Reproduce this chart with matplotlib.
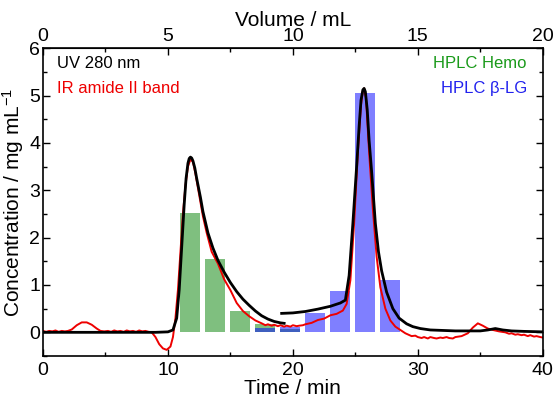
import matplotlib
matplotlib.use("Agg")
import matplotlib.pyplot as plt
from matplotlib.ticker import MultipleLocator

plt.rcParams['font.family'] = ['Liberation Sans', 'DejaVu Sans']
plt.rcParams['mathtext.fontset'] = 'custom'
plt.rcParams['mathtext.rm'] = 'Liberation Sans'
plt.rcParams['mathtext.it'] = 'Liberation Sans:italic'

# --- datos ---
# UV 280 nm (dos tramos)
uv1_t = [0, 3, 6, 9, 10.0, 10.4, 10.7, 10.9, 11.1, 11.3,
         11.45, 11.6, 11.7, 11.8, 11.9,
         12.0, 12.15, 12.3, 12.6, 12.8, 13.2, 13.6, 14.0, 14.5, 15.0, 15.5, 16.0, 16.5,
         17.0, 17.5, 18.0, 18.5, 19.0, 19.3]
uv1_c = [0.0, 0.0, 0.0, 0.0, 0.01, 0.05, 0.3, 0.9, 1.8, 2.7,
         3.25, 3.57, 3.67, 3.7, 3.68,
         3.62, 3.47, 3.25, 2.85, 2.55, 2.1, 1.78, 1.52, 1.27, 1.05, 0.86, 0.7, 0.57,
         0.45, 0.35, 0.28, 0.23, 0.2, 0.19]
uv2_t = [19.1, 20, 21, 22, 23, 23.8, 24.2, 24.5, 24.8, 25.1,
         25.3, 25.45, 25.6, 25.7, 25.8, 25.95, 26.1, 26.3, 26.6, 26.85,
         27.1, 27.5, 28.0, 28.5, 29.1, 29.6, 30.2, 31, 32, 33,
         34, 35, 35.6, 36.2, 36.8, 37.5, 38.5, 40]
uv2_c = [0.40, 0.41, 0.44, 0.49, 0.55, 0.62, 0.68, 1.2, 2.3, 3.5,
         4.35, 4.9, 5.12, 5.15, 5.08, 4.7, 4.05, 3.4, 2.3, 1.7,
         1.3, 0.85, 0.5, 0.3, 0.18, 0.12, 0.08, 0.05, 0.04, 0.03,
         0.03, 0.03, 0.05, 0.08, 0.05, 0.03, 0.02, 0.01]

# IR amide II band
ir_t = [0, 0.25, 0.5, 0.75, 1.0, 1.25, 1.5, 1.75, 2.0, 2.3,
        2.7, 3.1, 3.5, 3.9, 4.3, 4.6, 4.9, 5.2, 5.45, 5.7,
        5.95, 6.2, 6.45, 6.7, 6.95, 7.2, 7.45, 7.7, 7.95, 8.2,
        8.45, 8.7, 9.0, 9.3, 9.6, 9.9, 10.2, 10.4, 10.6, 10.8,
        11.0, 11.2, 11.4, 11.6, 11.8, 12.0, 12.2, 12.5, 12.8, 13.1,
        13.5, 14.0, 14.5, 15.0, 15.5, 16.0, 16.5, 17.0, 17.5, 17.8,
        18.0, 18.3, 18.5, 18.8, 19.0, 19.3, 19.5, 19.8, 20.0, 20.3,
        20.5, 20.8, 21.0, 21.5, 22.0, 22.5, 23.0, 23.5, 24.0, 24.3,
        24.6, 24.9, 25.2, 25.45, 25.6, 25.7, 25.85, 26.1, 26.4, 26.7,
        27.0, 27.4, 27.8, 28.2, 28.6, 29.0, 29.5, 29.8, 30.0, 30.3,
        30.5, 30.8, 31.0, 31.3, 31.5, 31.8, 32.0, 32.3, 32.5, 32.8,
        33.0, 33.5, 34.0, 34.4, 34.8, 35.2, 35.6, 36.0, 36.5, 37.0,
        37.3, 37.5, 37.8, 38.0, 38.3, 38.5, 38.8, 39.0, 39.3, 39.5, 39.8, 40.0]
ir_c = [0.03, 0.01, 0.03, 0.02, 0.04, 0.01, 0.03, 0.02, 0.03, 0.06,
        0.15, 0.21, 0.21, 0.16, 0.08, 0.03, 0.02, 0.03, 0.01, 0.04,
        0.02, 0.03, 0.01, 0.04, 0.02, 0.03, 0.01, 0.04, 0.02, 0.03,
        0.01, 0.0, -0.1, -0.25, -0.34, -0.37, -0.3, -0.1, 0.3, 0.9,
        1.7, 2.5, 3.1, 3.5, 3.65, 3.6, 3.35, 2.9, 2.45, 2.1,
        1.7, 1.45, 1.12, 0.89, 0.62, 0.45, 0.34, 0.25, 0.19, 0.15,
        0.17, 0.14, 0.16, 0.13, 0.15, 0.12, 0.14, 0.12, 0.15, 0.13,
        0.14, 0.15, 0.17, 0.2, 0.26, 0.29, 0.36, 0.39, 0.46, 0.6,
        1.1, 2.3, 3.8, 4.8, 5.1, 5.15, 4.95, 3.8, 2.6, 1.6,
        0.95, 0.5, 0.25, 0.12, 0.05, -0.02, -0.08, -0.07, -0.1, -0.12,
        -0.1, -0.13, -0.1, -0.12, -0.13, -0.11, -0.12, -0.1, -0.12, -0.13,
        -0.1, -0.08, -0.02, 0.1, 0.19, 0.14, 0.08, 0.05, 0.02, 0.0,
        -0.03, -0.02, -0.05, -0.04, -0.06, -0.05, -0.08, -0.06, -0.09, -0.08, -0.1, -0.11]

# HPLC fracciones
frac_t = [11.75, 13.75, 15.75, 17.75, 19.75, 21.75, 23.75, 25.75, 27.75]
hemo = [2.53, 1.54, 0.44, 0.18, 0.08, 0, 0, 0, 0]
blg = [0, 0, 0, 0.1, 0.12, 0.4, 0.88, 5.05, 1.1]

# --- figura ---
fig = plt.figure(figsize=(5.55, 3.98), dpi=100)
ax = fig.add_axes([0.0775, 0.1055, 0.9005, 0.7735])

ax.bar(frac_t, hemo, width=1.6, color='green', alpha=0.5, linewidth=0)
ax.bar(frac_t, blg, width=1.6, color='blue', alpha=0.5, linewidth=0)
ax.plot(ir_t, ir_c, color='#ee0000', lw=1.4)
ax.plot(uv1_t, uv1_c, color='black', lw=2.0)
ax.plot(uv2_t, uv2_c, color='black', lw=2.0)

ax.set_xlim(0, 40)
ax.set_ylim(-0.5, 6)
ax.xaxis.set_major_locator(MultipleLocator(10))
ax.xaxis.set_minor_locator(MultipleLocator(5))
ax.yaxis.set_major_locator(MultipleLocator(1))
ax.yaxis.set_minor_locator(MultipleLocator(0.5))
ax.tick_params(which='both', direction='in', top=False, right=True, labelsize=14, width=1)
ax.tick_params(which='major', length=5)
ax.tick_params(which='minor', length=3)
ax.tick_params(axis='y', pad=2)
ax.tick_params(axis='x', pad=4)
for s in ax.spines.values():
    s.set_linewidth(1.2)

ax.set_xlabel('Time / min', fontsize=15, labelpad=0)
ax.set_ylabel('Concentration / mg mL$^{-1}$', fontsize=15, labelpad=2)

sec = ax.secondary_xaxis('top', functions=(lambda t: t / 2, lambda v: v * 2))
sec.xaxis.set_major_locator(MultipleLocator(5))
sec.xaxis.set_minor_locator(MultipleLocator(2.5))
sec.tick_params(which='both', direction='in', labelsize=14, width=1, pad=2)
sec.tick_params(which='major', length=5)
sec.tick_params(which='minor', length=3)
sec.set_xlabel('Volume / mL', fontsize=15, labelpad=2)

ax.text(0.028, 0.95, 'UV 280 nm', transform=ax.transAxes, fontsize=12,
        color='black', va='center', ha='left')
ax.text(0.028, 0.87, 'IR amide II band', transform=ax.transAxes, fontsize=12,
        color='#ee0000', va='center', ha='left')
ax.text(0.968, 0.95, 'HPLC Hemo', transform=ax.transAxes, fontsize=12,
        color='#1a9a1a', va='center', ha='right')
ax.text(0.968, 0.87, 'HPLC \u03b2-LG', transform=ax.transAxes, fontsize=12,
        color='#2222ee', va='center', ha='right')

fig.savefig('out.png', dpi=100)
